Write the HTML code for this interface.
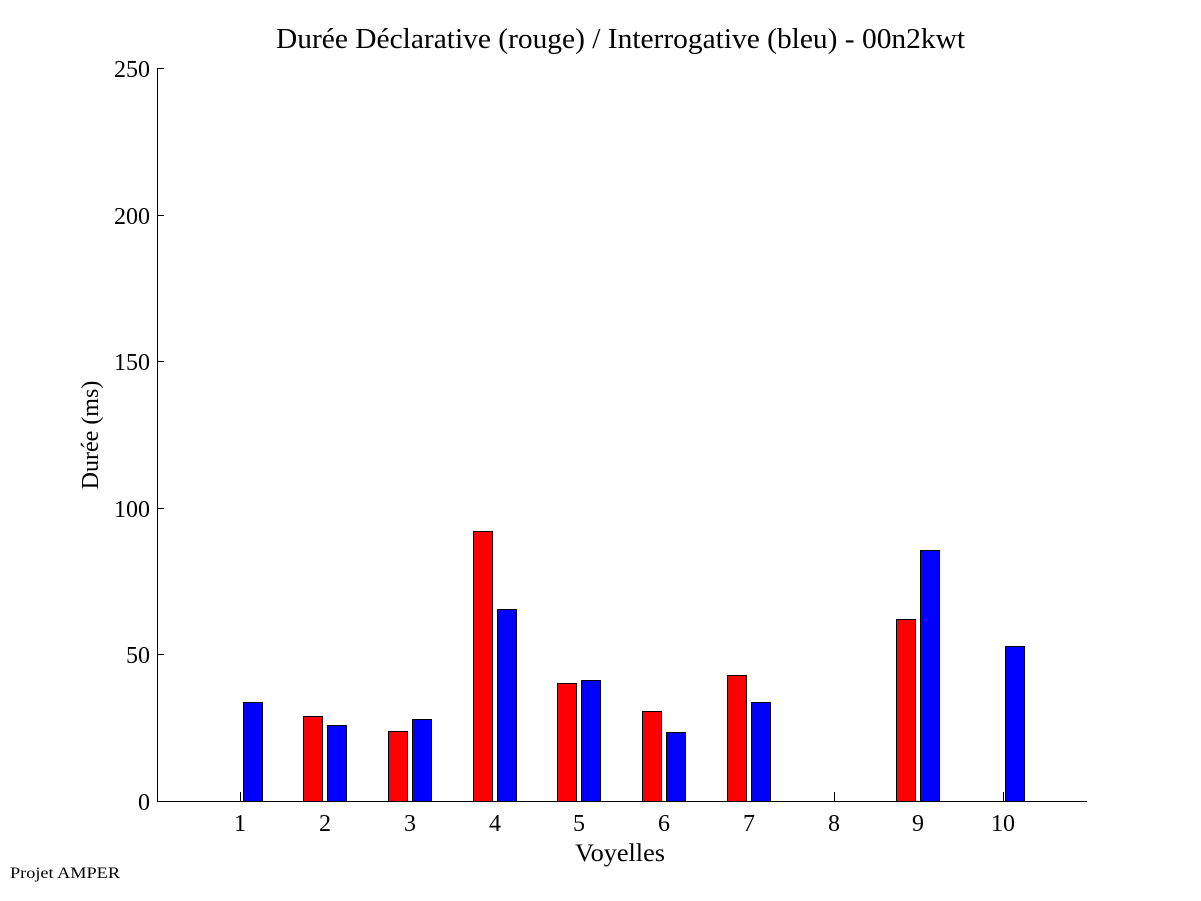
<!DOCTYPE html>
<html><head><style>body{margin:0;background:#fff}svg{display:block}text{font-family:"Liberation Serif",serif}</style></head>
<body>
<svg width="1201" height="901" xmlns="http://www.w3.org/2000/svg">
<rect width="1201" height="901" fill="#fff"/>
<text x="276" y="48" font-size="28" textLength="689" lengthAdjust="spacingAndGlyphs">Durée Déclarative (rouge) / Interrogative (bleu) - 00n2kwt</text>
<g stroke="#000" stroke-width="1" shape-rendering="crispEdges">
<line x1="157.5" y1="68" x2="157.5" y2="801.5"/>
<line x1="157" y1="801.5" x2="1087" y2="801.5"/>
<line x1="157" y1="68.5" x2="164" y2="68.5"/>
<line x1="157" y1="215.5" x2="164" y2="215.5"/>
<line x1="157" y1="361.5" x2="164" y2="361.5"/>
<line x1="157" y1="508.5" x2="164" y2="508.5"/>
<line x1="157" y1="654.5" x2="164" y2="654.5"/>
</g>
<g font-size="24" text-anchor="end">
<text x="150" y="77">250</text><text x="150" y="224">200</text><text x="150" y="370">150</text><text x="150" y="517">100</text><text x="150" y="663">50</text><text x="150" y="810">0</text>
</g>
<text transform="translate(98,435) rotate(-90)" font-size="24" text-anchor="middle">Durée (ms)</text>
<text x="575" y="861" font-size="25" textLength="90" lengthAdjust="spacingAndGlyphs">Voyelles</text>
<text x="10" y="878" font-size="16" textLength="110" lengthAdjust="spacingAndGlyphs">Projet AMPER</text>
<g font-size="24" text-anchor="middle">
<text x="240" y="831">1</text><text x="325" y="831">2</text><text x="410" y="831">3</text><text x="495" y="831">4</text><text x="579" y="831">5</text><text x="664" y="831">6</text><text x="749" y="831">7</text><text x="834" y="831">8</text><text x="918" y="831">9</text><text x="1003" y="831">10</text>
</g>
<g stroke="#000" stroke-width="1" shape-rendering="crispEdges">
<line x1="240.5" y1="801" x2="240.5" y2="792"/><line x1="834.5" y1="801" x2="834.5" y2="792"/><line x1="1003.5" y1="801" x2="1003.5" y2="792"/>
<rect x="243.5" y="702.5" width="19" height="99" fill="#00f"/>
<rect x="303.5" y="716.5" width="19" height="85" fill="#f00"/><rect x="327.5" y="725.5" width="19" height="76" fill="#00f"/>
<rect x="388.5" y="731.5" width="19" height="70" fill="#f00"/><rect x="412.5" y="719.5" width="19" height="82" fill="#00f"/>
<rect x="473.5" y="531.5" width="19" height="270" fill="#f00"/><rect x="497.5" y="609.5" width="19" height="192" fill="#00f"/>
<rect x="557.5" y="683.5" width="19" height="118" fill="#f00"/><rect x="581.5" y="680.5" width="19" height="121" fill="#00f"/>
<rect x="642.5" y="711.5" width="19" height="90" fill="#f00"/><rect x="666.5" y="732.5" width="19" height="69" fill="#00f"/>
<rect x="727.5" y="675.5" width="19" height="126" fill="#f00"/><rect x="751.5" y="702.5" width="19" height="99" fill="#00f"/>
<rect x="896.5" y="619.5" width="19" height="182" fill="#f00"/><rect x="920.5" y="550.5" width="19" height="251" fill="#00f"/>
<rect x="1005.5" y="646.5" width="19" height="155" fill="#00f"/>
</g>
</svg>
</body></html>
